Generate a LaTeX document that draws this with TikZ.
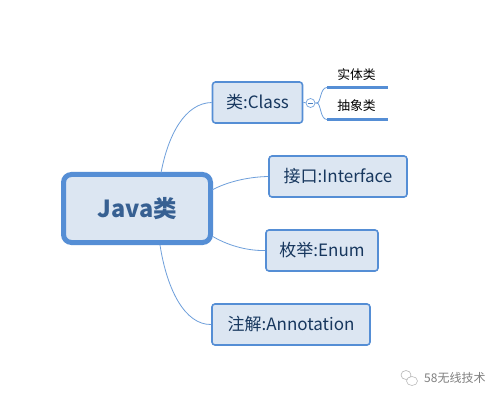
\documentclass[tikz,border=0pt]{standalone}
\usepackage{fontspec}
\setmainfont{Noto Sans CJK SC}
\definecolor{edgeblue}{HTML}{558ED5}
\definecolor{fillblue}{HTML}{DCE6F2}
\definecolor{textblue}{HTML}{17375E}
\definecolor{rootblue}{HTML}{376092}
\newcommand{\lowered}[1]{\raisebox{-0.9pt}{#1}}
\tikzset{
  topic/.style={draw=edgeblue,fill=fillblue,line width=1.6pt,rounded corners=3pt,text=textblue,font=\fontsize{17}{19}\selectfont,inner sep=0pt,anchor=center},
  rootnode/.style={draw=edgeblue,fill=fillblue,line width=5pt,rounded corners=8pt,text=rootblue,font=\fontsize{23.5}{26}\bfseries\selectfont,inner sep=0pt,minimum width=147pt,minimum height=68pt},
  link/.style={draw=edgeblue!85,line width=0.8pt},
  sublabel/.style={font=\fontsize{12.8}{14}\selectfont,text=black,inner sep=0pt},
  bar/.style={draw=edgeblue,line width=2.4pt}
}
\begin{document}
\begin{tikzpicture}[x=1pt,y=-1pt]
\useasboundingbox[fill=white] (0,0) rectangle (501,401);
\node[rootnode] (root) at (137,208.5) {\lowered{Java类}};
\node[topic,minimum width=90pt,minimum height=41pt] (class) at (257.5,102.5) {\lowered{类:Class}};
\node[topic,minimum width=138pt,minimum height=41pt] (iface) at (338,176.5) {\lowered{接口:Interface}};
\node[topic,minimum width=112pt,minimum height=41pt] (enum) at (322,250.5) {\lowered{枚举:Enum}};
\node[topic,minimum width=158pt,minimum height=41pt] (anno) at (291,324.5) {\lowered{注解:Annotation}};
\coordinate (r1) at (161,173);
\coordinate (r2) at (212,190);
\coordinate (r3) at (212,236);
\coordinate (r4) at (160,245);
\draw[link] (r1) .. controls (168,135) and (185,103) .. (class.west);
\draw[link] (r2) .. controls (225,183) and (245,177) .. (iface.west);
\draw[link] (r3) .. controls (225,244) and (245,251) .. (enum.west);
\draw[link] (r4) .. controls (167,290) and (185,325) .. (anno.west);
\node[draw=edgeblue!80,fill=white,circle,line width=0.7pt,minimum size=9pt,inner sep=0pt] (fold) at (310.5,103) {};
\draw[edgeblue!90!black,line width=0.6pt] ([xshift=-2.5pt]fold.center) -- ([xshift=2.5pt]fold.center);
\draw[link] (class.east) -- (fold);
\coordinate (t1) at (327,87.5);
\coordinate (t2) at (327,119.5);
\coordinate (e1) at (388,87.5);
\coordinate (e2) at (388,119.5);
\draw[link] (fold.east) -- ++(1.5,0) .. controls (321,103) and (320,87.5) .. (t1);
\draw[link] (fold.east) -- ++(1.5,0) .. controls (321,103) and (320,119.5) .. (t2);
\draw[bar] (t1) -- (e1);
\draw[bar] (t2) -- (e2);
\node[sublabel] (sub1) at (356.5,74.5) {实体类};
\node[sublabel] (sub2) at (356.5,106) {抽象类};
% watermark
\draw[black!28,line width=0.6pt] (406,375) ellipse (5pt and 4.5pt);
\draw[black!28,line width=0.6pt,fill=white] (412,381) ellipse (5.5pt and 4.5pt);
\node[font=\fontsize{12}{13}\selectfont,text=black!50,anchor=west,inner sep=0pt] (wm) at (424,378) {58无线技术};
\end{tikzpicture}
\end{document}
